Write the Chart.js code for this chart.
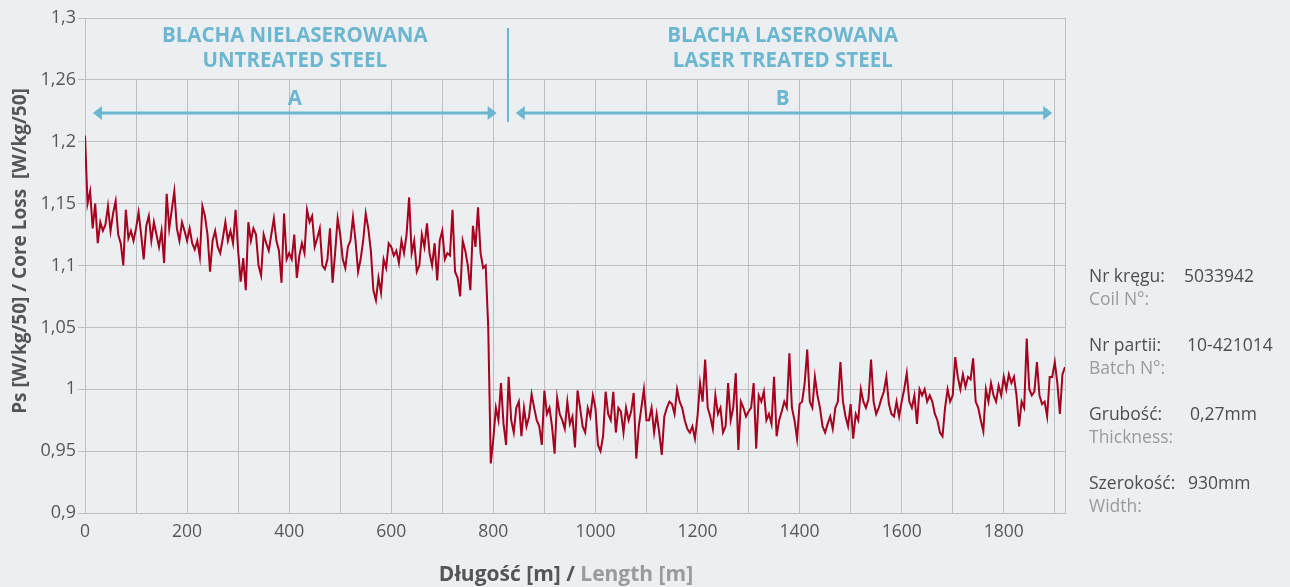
<!DOCTYPE html>
<html>
<head>
<meta charset="utf-8">
<script src="https://cdn.jsdelivr.net/npm/chart.js@4"></script>
<style>
  html, body { margin: 0; padding: 0; background: #eceff2; }
  #wrap { position: relative; width: 1290px; height: 587px; }
</style>
</head>
<body>
<div id="wrap"><canvas id="chart"></canvas></div>
<script>
// core loss readings, one every 5 m
const untreatedLoss = [
  1.205, 1.15, 1.16, 1.13, 1.15, 1.118, 1.135, 1.128, 1.133, 1.148, 1.128, 1.142, 1.152, 1.125, 1.118, 1.100, 1.145, 1.122, 1.128, 1.12,
  1.13, 1.143, 1.125, 1.105, 1.132, 1.14, 1.12, 1.135, 1.125, 1.115, 1.128, 1.102, 1.158, 1.13, 1.145, 1.16, 1.13, 1.12, 1.135, 1.128,
  1.12, 1.13, 1.118, 1.113, 1.12, 1.107, 1.148, 1.14, 1.125, 1.095, 1.12, 1.128, 1.115, 1.11, 1.122, 1.135, 1.12, 1.128, 1.118, 1.145,
  1.112, 1.087, 1.106, 1.08, 1.135, 1.12, 1.13, 1.125, 1.10, 1.092, 1.125, 1.118, 1.112, 1.125, 1.138, 1.12, 1.112, 1.086, 1.142, 1.105,
  1.11, 1.105, 1.125, 1.09, 1.108, 1.118, 1.11, 1.145, 1.135, 1.14, 1.115, 1.122, 1.13, 1.10, 1.097, 1.105, 1.13, 1.086, 1.11, 1.138,
  1.125, 1.105, 1.098, 1.115, 1.12, 1.139, 1.12, 1.095, 1.105, 1.12, 1.142, 1.13, 1.112, 1.08, 1.072, 1.09, 1.078, 1.105, 1.098, 1.118,
  1.115, 1.108, 1.112, 1.102, 1.12, 1.11, 1.125, 1.155, 1.11, 1.12, 1.095, 1.10, 1.125, 1.115, 1.134, 1.11, 1.10, 1.118, 1.088, 1.12,
  1.128, 1.105, 1.11, 1.108, 1.145, 1.095, 1.09, 1.075, 1.12, 1.112, 1.10, 1.08, 1.132, 1.115, 1.147, 1.11, 1.098, 1.10, 1.05
];
const laserLoss = [
  0.94,
  0.96, 0.985, 0.975, 1.005, 0.972, 0.955, 1.01, 0.975, 0.965, 0.985, 0.99, 0.962, 0.985, 0.97, 0.978, 0.996, 0.985, 0.975, 0.97, 0.955,
  0.999, 0.98, 0.985, 0.97, 0.948, 0.993, 0.98, 0.975, 0.968, 0.99, 0.972, 0.978, 0.953, 0.999, 0.985, 0.97, 0.965, 0.985, 0.978, 0.995,
  0.985, 0.955, 0.95, 0.962, 0.998, 0.98, 0.975, 0.998, 0.965, 0.985, 0.982, 0.965, 0.985, 0.975, 0.982, 0.997, 0.944, 0.97, 0.985, 1.0,
  0.975, 0.975, 0.985, 0.965, 0.98, 0.965, 0.947, 0.978, 0.985, 0.99, 0.988, 0.98, 1.0, 0.99, 0.985, 0.975, 0.968, 0.965, 0.97, 0.96,
  0.978, 1.005, 0.99, 1.024, 0.985, 0.978, 0.968, 0.995, 0.98, 0.985, 0.965, 0.97, 1.005, 0.975, 0.985, 1.013, 0.951, 0.99, 0.985, 0.978,
  0.982, 0.985, 1.005, 0.952, 0.995, 0.99, 0.998, 0.975, 0.98, 0.972, 1.01, 0.962, 0.975, 0.982, 0.99, 0.985, 1.029, 0.985, 0.975, 0.96,
  0.988, 0.99, 1.005, 1.032, 0.99, 0.985, 1.01, 0.995, 0.985, 0.97, 0.965, 0.972, 0.978, 0.968, 0.985, 0.99, 1.022, 0.99, 0.978, 0.97,
  0.988, 0.96, 0.98, 0.975, 1.0, 0.99, 0.985, 0.992, 1.024, 0.99, 0.98, 0.985, 0.992, 0.998, 1.01, 0.988, 0.98, 0.978, 0.99, 0.978,
  0.99, 1.0, 1.013, 0.99, 0.985, 0.995, 0.972, 1.0, 0.995, 1.0, 0.99, 0.995, 0.99, 0.98, 0.975, 0.965, 0.962, 0.985, 1.0, 0.99,
  0.995, 1.026, 1.01, 1.0, 1.012, 1.002, 1.01, 1.008, 1.025, 0.99, 0.985, 0.975, 0.966, 1.0, 0.99, 1.005, 0.995, 0.99, 1.003, 0.995,
  1.01, 1.0, 1.012, 1.005, 1.01, 0.995, 0.97, 0.99, 0.985, 1.041, 1.0, 0.995, 0.998, 1.022, 0.995, 0.988, 0.99, 0.978, 1.01, 1.01,
  1.022, 1.005, 0.98, 1.012, 1.018
];
const coreLoss = untreatedLoss.concat(laserLoss);
const lengths = coreLoss.map((_, i) => i * 5);

const yTickValues = [0.9, 0.95, 1, 1.05, 1.1, 1.15, 1.2, 1.25, 1.3];
const yTickLabels = ['0,9', '0,95', '1', '1,05', '1,1', '1,15', '1,2', '1,26', '1,3'];

const coilInfo = [
  ['Nr kręgu:', 'Coil N°:', '5033942'],
  ['Nr partii:', 'Batch N°:', '10-421014'],
  ['Grubość:', 'Thickness:', '0,27mm'],
  ['Szerokość:', 'Width:', '930mm']
];

const BG = '#eceff2';
const GRID = '#bcbec1';
const BLUE = '#6cb7cf';
const FONT = '"Open Sans", sans-serif';

const overlay = {
  id: 'overlay',
  beforeDatasetsDraw(chart) {
    const { ctx, chartArea: a, scales: { y } } = chart;
    const band = y.getPixelForValue(1.25);
    ctx.save();
    ctx.fillStyle = BG;
    ctx.fillRect(a.left + 1, a.top + 1, a.right - a.left - 1, band - a.top - 2);
    ctx.strokeStyle = GRID;
    ctx.lineWidth = 1;
    ctx.beginPath();
    ctx.moveTo(Math.round(a.right) + 0.5, a.top);
    ctx.lineTo(Math.round(a.right) + 0.5, a.bottom);
    ctx.stroke();
    ctx.restore();
  },
  afterDraw(chart) {
    const { ctx, scales: { x, y } } = chart;
    ctx.save();
    // header texts
    ctx.fillStyle = BLUE;
    ctx.textAlign = 'center';
    ctx.textBaseline = 'middle';
    ctx.font = 'bold 20.5px ' + FONT;
    [[411, 'BLACHA NIELASEROWANA', 'UNTREATED STEEL'],
     [1367, 'BLACHA LASEROWANA', 'LASER TREATED STEEL']].forEach(([m, l1, l2]) => {
      const px = x.getPixelForValue(m);
      ctx.fillText(l1, px, y.getPixelForValue(1.285));
      ctx.fillText(l2, px, y.getPixelForValue(1.2655));
    });
    ctx.fillText('A', x.getPixelForValue(411), y.getPixelForValue(1.2345));
    ctx.fillText('B', x.getPixelForValue(1367), y.getPixelForValue(1.2345));

    // arrows
    const ay = Math.round(y.getPixelForValue(1.2235));
    ctx.strokeStyle = BLUE;
    ctx.fillStyle = BLUE;
    ctx.lineWidth = 3;
    [[15.5, 806.5], [844, 1895]].forEach(([m1, m2]) => {
      const x1 = x.getPixelForValue(m1), x2 = x.getPixelForValue(m2);
      ctx.beginPath();
      ctx.moveTo(x1 + 6, ay);
      ctx.lineTo(x2 - 6, ay);
      ctx.stroke();
      ctx.beginPath();
      ctx.moveTo(x1, ay); ctx.lineTo(x1 + 9, ay - 7); ctx.lineTo(x1 + 9, ay + 7); ctx.closePath();
      ctx.moveTo(x2, ay); ctx.lineTo(x2 - 9, ay - 7); ctx.lineTo(x2 - 9, ay + 7); ctx.closePath();
      ctx.fill();
    });
    // divider
    ctx.lineWidth = 2;
    const dx = Math.round(x.getPixelForValue(828));
    ctx.beginPath();
    ctx.moveTo(dx, y.getPixelForValue(1.292));
    ctx.lineTo(dx, y.getPixelForValue(1.216));
    ctx.stroke();

    // y axis title
    ctx.save();
    ctx.translate(21, 251);
    ctx.rotate(-Math.PI / 2);
    ctx.fillStyle = '#555555';
    ctx.font = 'bold 19px ' + FONT;
    ctx.textAlign = 'center';
    ctx.fillText('Ps [W/kg/50] / Core Loss  [W/kg/50]', 0, 0);
    ctx.restore();

    // x axis title, two tones
    ctx.font = 'bold 21px ' + FONT;
    ctx.textBaseline = 'alphabetic';
    ctx.textAlign = 'left';
    const p1 = 'Długość [m] / ', p2 = 'Length [m]';
    const w1 = ctx.measureText(p1).width, w2 = ctx.measureText(p2).width;
    const tx = 566 - (w1 + w2) / 2;
    ctx.fillStyle = '#555555';
    ctx.fillText(p1, tx, 581);
    ctx.fillStyle = '#9a9a9a';
    ctx.fillText(p2, tx + w1, 581);

    // coil info
    ctx.font = '17.5px ' + FONT;
    const valX = [1184, 1187, 1190, 1188];
    coilInfo.forEach(([pl, en, val], i) => {
      const by = 282 + i * 69;
      ctx.fillStyle = '#4d4d4d';
      ctx.fillText(pl, 1089, by);
      ctx.fillText(val, valX[i], by);
      ctx.fillStyle = '#9a9a9a';
      ctx.fillText(en, 1089, by + 23);
    });
    ctx.restore();
  }
};

new Chart(document.getElementById('chart'), {
  type: 'line',
  data: {
    labels: lengths,
    datasets: [{
      data: coreLoss,
      borderColor: '#a6001f',
      borderWidth: 2,
      pointRadius: 0,
      tension: 0,
      fill: false
    }]
  },
  options: {
    responsive: true,
    maintainAspectRatio: false,
    animation: false,
    events: [],
    layout: { padding: { left: 0, top: 18, right: 225, bottom: 0 } },
    plugins: { legend: { display: false }, tooltip: { enabled: false } },
    scales: {
      x: {
        type: 'linear',
        min: 0,
        max: 1920,
        afterFit(s) { s.height = 74; },
        grid: { color: GRID, lineWidth: 1, tickLength: 0 },
        border: { color: GRID },
        ticks: {
          stepSize: 100,
          includeBounds: false,
          maxRotation: 0,
          autoSkip: false,
          padding: 9,
          color: '#575757',
          font: { family: FONT, size: 17.5 },
          callback: v => (v % 200 === 0 ? String(v) : '')
        }
      },
      y: {
        min: 0.9,
        max: 1.3,
        afterFit(s) { s.width = 85; },
        afterBuildTicks(s) { s.ticks = yTickValues.map(v => ({ value: v })); },
        grid: { color: GRID, lineWidth: 1, tickLength: 7 },
        border: { color: GRID },
        ticks: {
          padding: 2,
          color: '#575757',
          font: { family: FONT, size: 18 },
          callback: v => yTickLabels[yTickValues.indexOf(v)]
        }
      }
    }
  },
  plugins: [overlay]
});
</script>
</body>
</html>
